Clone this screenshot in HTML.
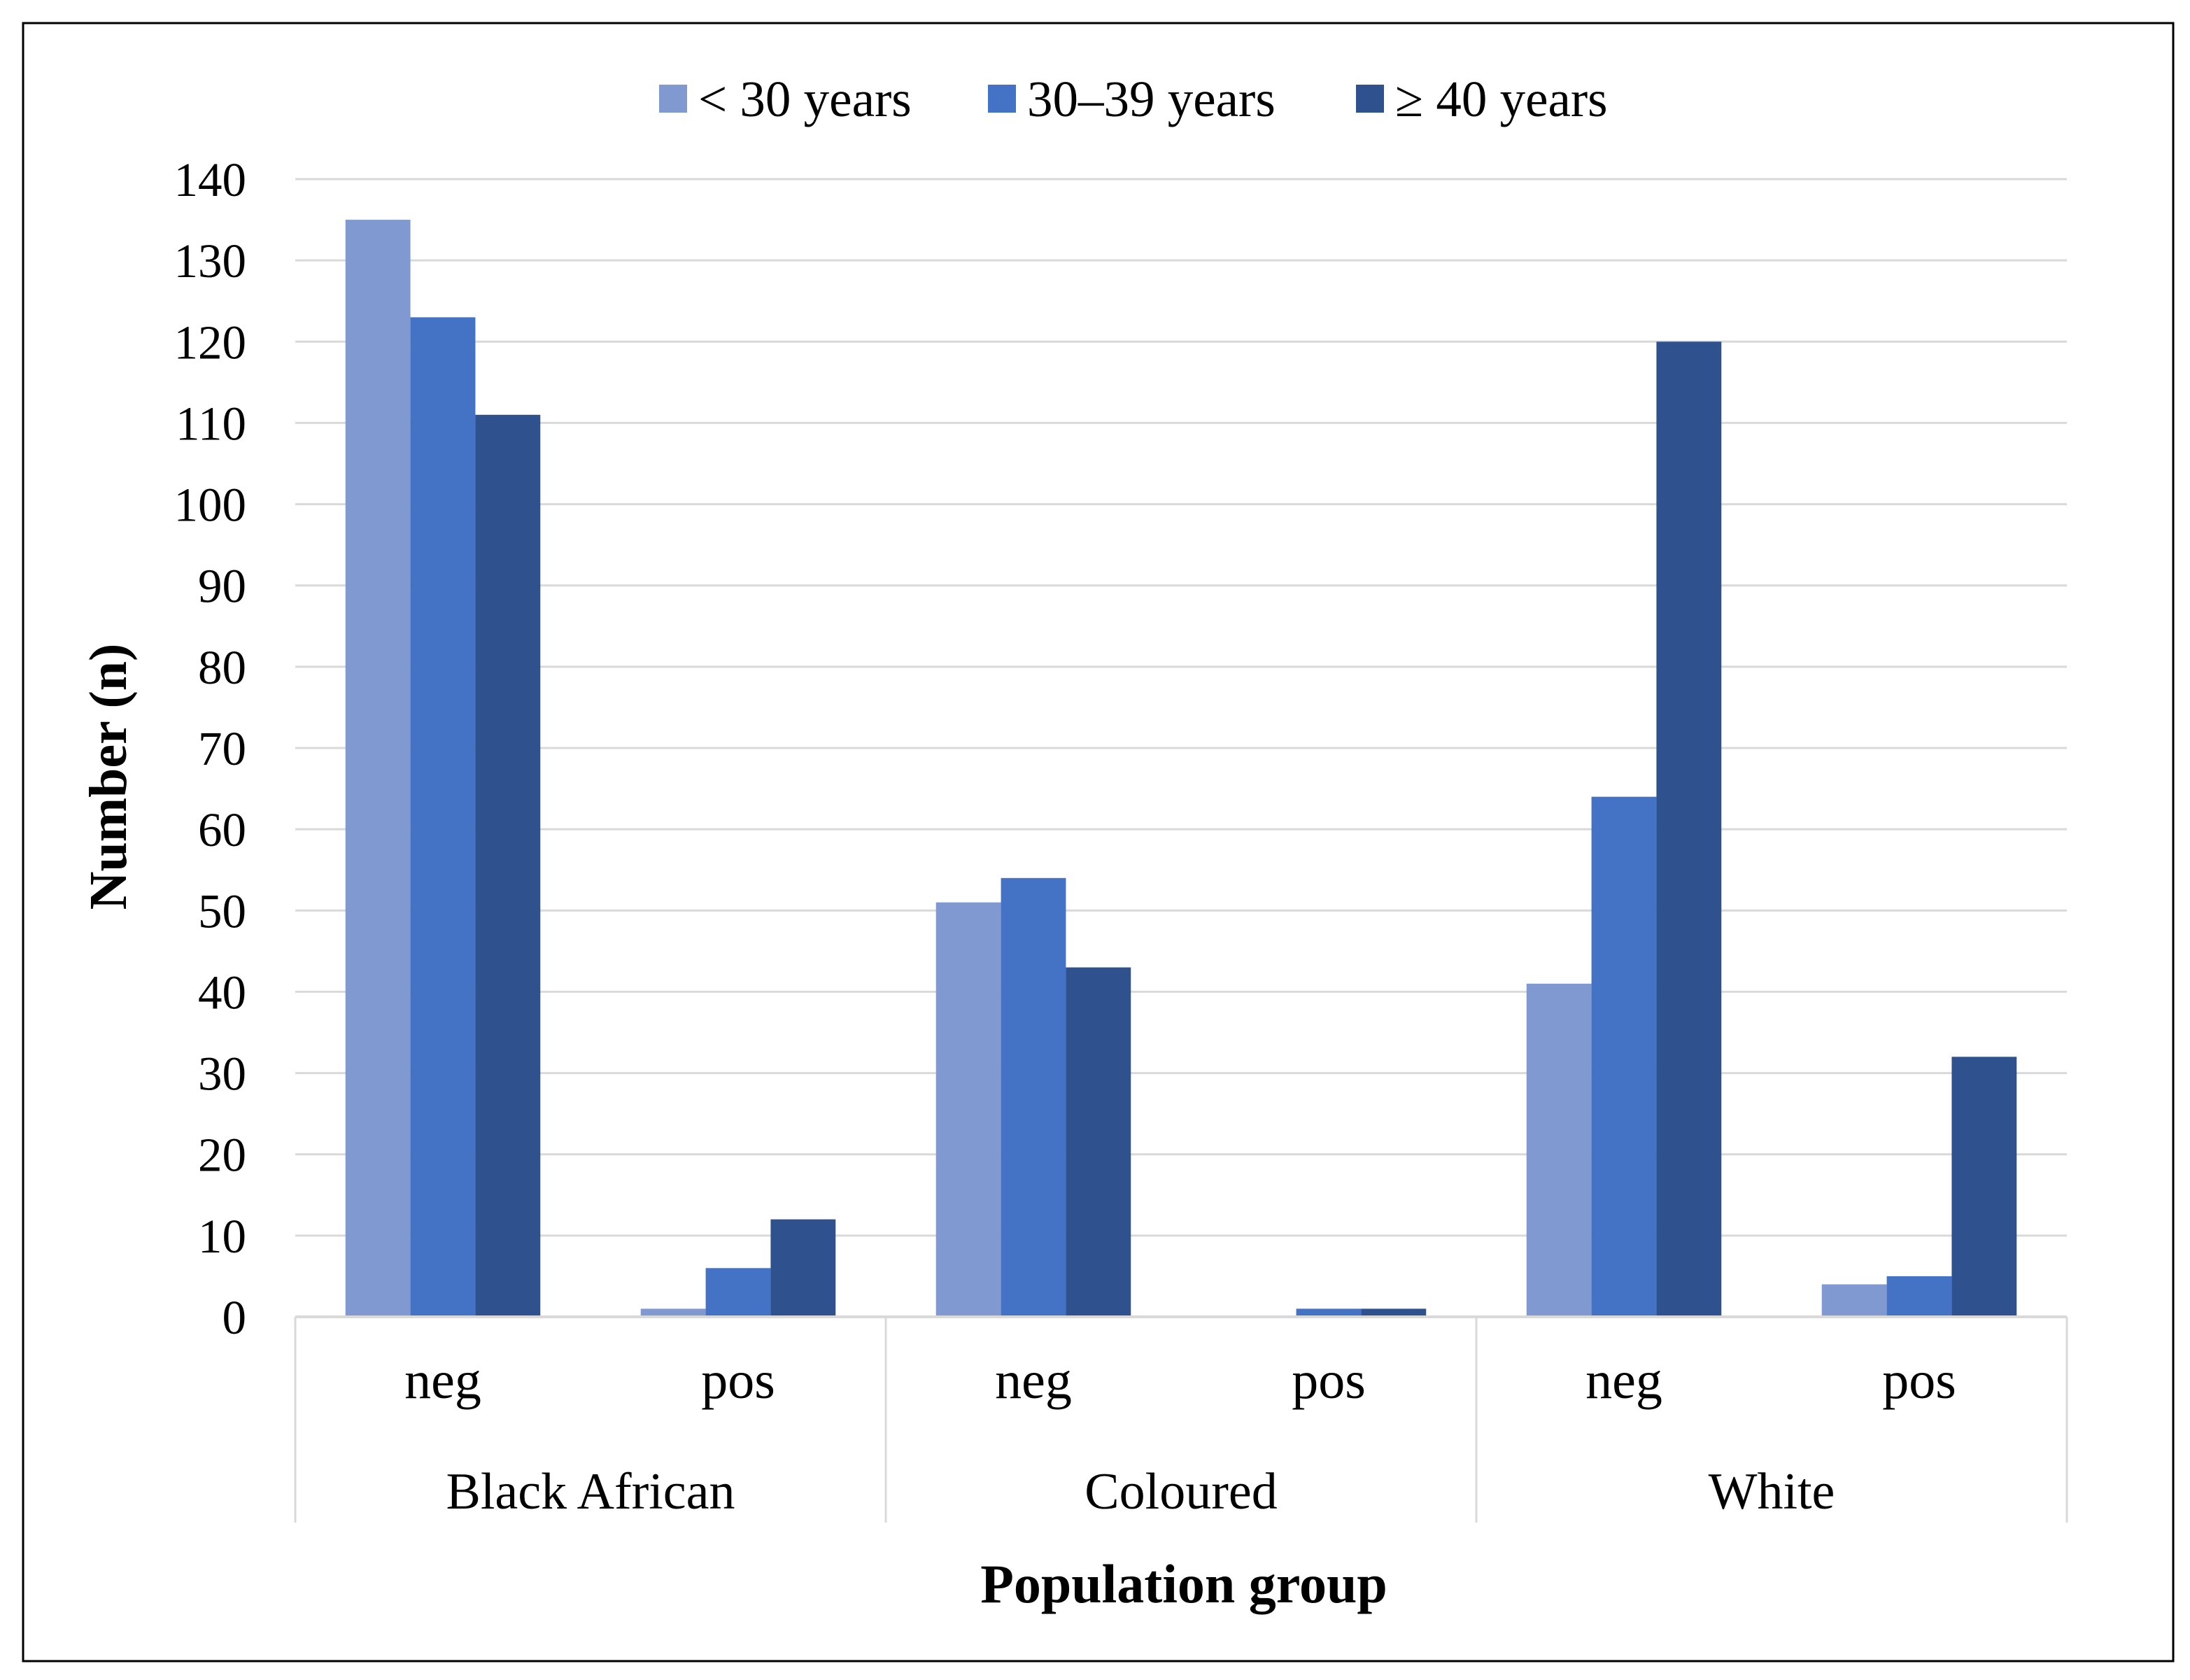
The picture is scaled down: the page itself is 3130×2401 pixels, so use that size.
<!DOCTYPE html>
<html><head><meta charset="utf-8"><style>
html,body{margin:0;padding:0;background:#fff;}
svg{display:block;font-family:"Liberation Serif",serif;}
</style></head><body>
<svg id="chart" width="3130" height="2401" viewBox="0 0 3130 2401" xmlns="http://www.w3.org/2000/svg">
<rect x="33" y="33" width="3073" height="2341" fill="#fff" stroke="#000" stroke-width="3"/>
<g id="grid"></g>
<g id="bars"></g>
<g id="yticks"></g>
<g id="xaxis"></g>
<g id="legend"></g>
<text transform="translate(180,1110) rotate(-90)" text-anchor="middle" font-size="76" font-weight="bold">Number (n)</text>
<text x="1692" y="2290" text-anchor="middle" font-size="78" font-weight="bold">Population group</text>
</svg>
<script>
const groups = ["Black African", "Coloured", "White"];
const subcats = ["neg", "pos"];
const seriesNames = ["< 30 years", "30–39 years", "≥ 40 years"];
const under30 = [135, 1, 51, 0, 41, 4];
const age30to39 = [123, 6, 54, 1, 64, 5];
const over40 = [111, 12, 43, 1, 120, 32];
const yTicks = [0, 10, 20, 30, 40, 50, 60, 70, 80, 90, 100, 110, 120, 130, 140];

const NS = "http://www.w3.org/2000/svg";
const colors = ["#8099D0", "#4472C4", "#2F528F"];
const L = 422, R = 2954, Y0 = 1882, Y140 = 256;
const yScale = v => Y0 - (v / 140) * (Y0 - Y140);
const nCat = groups.length * subcats.length;
const catW = (R - L) / nCat;
const barW = catW * 0.22;
const xCat = i => L + i * catW;
function mk(tag, attrs, parent) { const e = document.createElementNS(NS, tag); for (const k in attrs) e.setAttribute(k, attrs[k]); parent.appendChild(e); return e; }

const grid = document.getElementById('grid');
const yt = document.getElementById('yticks');
yTicks.forEach(t => {
  if (t > 0) {
    const ln = mk('line', {x1: L, x2: R, y1: yScale(t), y2: yScale(t), stroke: '#D9D9D9', 'stroke-width': 3}, grid);
    
    
  }
  const tx = mk('text', {x: 352, y: yScale(t) + 24, 'text-anchor': 'end', 'font-size': 69}, yt);
  tx.textContent = t;
  
  
});

const bars = document.getElementById('bars');
const series = [under30, age30to39, over40];
series.forEach((vals, s) => {
  vals.forEach((v, i) => {
    const x = xCat(i) + (catW - 3 * barW) / 2 + s * barW;
    const r = mk('rect', {x: x, y: yScale(v), width: barW, height: Y0 - yScale(v), fill: colors[s]}, bars);
    
    
  });
});

const xa = document.getElementById('xaxis');
const base = mk('line', {x1: L, x2: R, y1: Y0, y2: Y0, stroke: '#D9D9D9', 'stroke-width': 4}, xa);


for (let g = 0; g <= groups.length; g++) {
  const x = L + g * catW * subcats.length;
  const ln = mk('line', {x1: x, x2: x, y1: Y0, y2: 2176, stroke: '#D9D9D9', 'stroke-width': 3}, xa);
  
  
}
for (let i = 0; i < nCat; i++) {
  const t = mk('text', {x: xCat(i) + catW / 2, y: 1998, 'text-anchor': 'middle', 'font-size': 76}, xa);
  t.textContent = subcats[i % subcats.length];
  
  
}
groups.forEach((g, k) => {
  const t = mk('text', {x: L + (k + 0.5) * catW * subcats.length, y: 2156, 'text-anchor': 'middle', 'font-size': 74}, xa);
  t.textContent = g;
  
  
});

const lg = document.getElementById('legend');
const lgX = [942, 1412, 1938];
seriesNames.forEach((n, s) => {
  const r = mk('rect', {x: lgX[s], y: 121, width: 40, height: 40, fill: colors[s]}, lg);
  
  
  const t = mk('text', {x: lgX[s] + 56, y: 166, 'font-size': 73}, lg);
  t.textContent = n;
  
  
});
</script>
</body></html>
